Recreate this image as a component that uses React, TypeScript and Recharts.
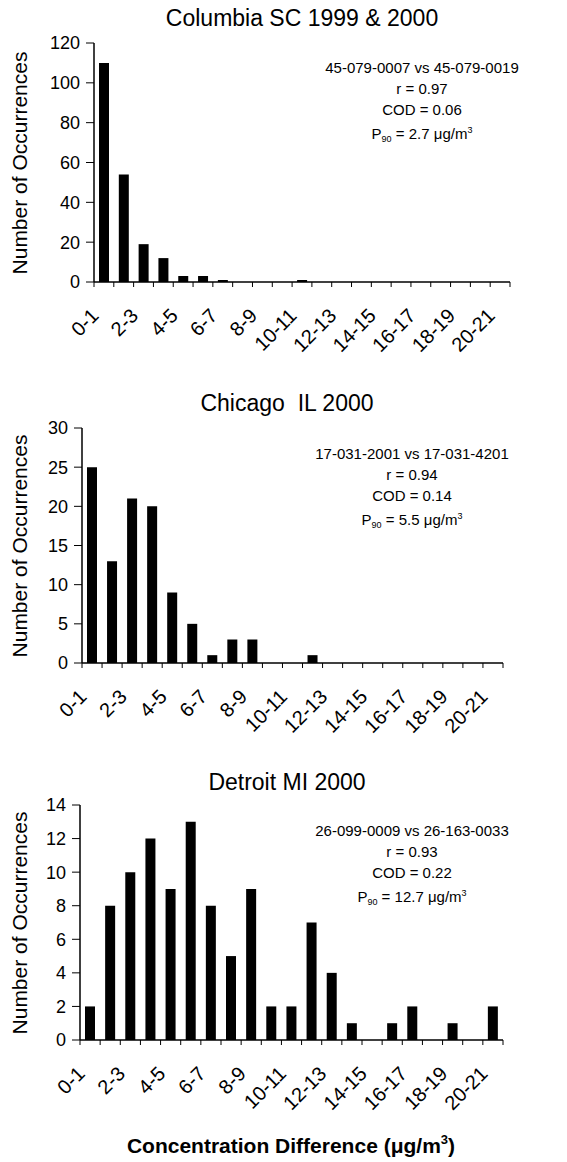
import { BarChart, Bar, XAxis, YAxis } from "recharts";

const bins = [
	"0-1", "1-2", "2-3", "3-4", "4-5", "5-6", "6-7", "7-8", "8-9", "9-10", "10-11",
	"11-12", "12-13", "13-14", "14-15", "15-16", "16-17", "17-18", "18-19", "19-20", "20-21",
];

const columbiaCounts = [110, 54, 19, 12, 3, 3, 1, 0, 0, 0, 1, 0, 0, 0, 0, 0, 0, 0, 0, 0, 0];
const chicagoCounts = [25, 13, 21, 20, 9, 5, 1, 3, 3, 0, 0, 1, 0, 0, 0, 0, 0, 0, 0, 0, 0];
const detroitCounts = [2, 8, 10, 12, 9, 13, 8, 5, 9, 2, 2, 7, 4, 1, 0, 1, 2, 0, 1, 0, 2];

const columbiaTicks = [0, 20, 40, 60, 80, 100, 120];
const chicagoTicks = [0, 5, 10, 15, 20, 25, 30];
const detroitTicks = [0, 2, 4, 6, 8, 10, 12, 14];

const FONT = "'Liberation Sans', Arial, Helvetica, sans-serif";
const W = 567;

interface PanelProps {
	top: number;
	height: number;
	title: string;
	titleX: number;
	titleY: number;
	counts: number[];
	ticks: number[];
	plotLeft: number;
	plotRight: number;
	plotTop: number;
	plotBottom: number;
	sites: string;
	r: string;
	cod: string;
	p90: string;
	noteX: number;
	noteY: number;
	xTitle?: boolean;
}

function BinTick(props: any) {
	const { x, payload, index, band, axisY, count } = props;
	const half = band / 2;
	const showLabel = index % 2 === 0;
	const ax = x - 9;
	const ay = axisY + 30;
	return (
		<g>
			<line x1={x - half} x2={x - half} y1={axisY} y2={axisY + 5} stroke="#000" strokeWidth={1} />
			{index === count - 1 && (
				<line x1={x + half} x2={x + half} y1={axisY} y2={axisY + 5} stroke="#000" strokeWidth={1} />
			)}
			{showLabel && (
				<text
					x={ax}
					y={ay}
					dy="0.35em"
					textAnchor="end"
					transform={`rotate(-45, ${ax}, ${ay})`}
					fontSize={20}
					fontFamily={FONT}
					fill="#000">
					{payload.value}
				</text>
			)}
		</g>
	);
}

function Panel(p: PanelProps) {
	const data = bins.map((name, i) => ({ name, value: p.counts[i] }));
	const xAxisHeight = 60;
	const band = (p.plotRight - p.plotLeft) / bins.length;
	const axisY = p.plotBottom;
	const yMax = p.ticks[p.ticks.length - 1];
	return (
		<div style={{ position: "absolute", left: 0, top: p.top, width: W, height: p.height }}>
			<BarChart
				width={W}
				height={p.height}
				data={data}
				barCategoryGap={0}
				margin={{
					top: p.plotTop,
					right: W - p.plotRight,
					left: 0,
					bottom: p.height - p.plotBottom - xAxisHeight,
				}}>
				<XAxis
					dataKey="name"
					interval={0}
					height={xAxisHeight}
					tickLine={false}
					axisLine={{ stroke: "#000", strokeWidth: 1.5 }}
					tick={<BinTick band={band} axisY={axisY} count={bins.length} />}
				/>
				<YAxis
					width={p.plotLeft}
					domain={[0, yMax]}
					ticks={p.ticks}
					interval={0}
					tickSize={8}
					tickMargin={6}
					axisLine={{ stroke: "#000", strokeWidth: 1.5 }}
					tickLine={{ stroke: "#000", strokeWidth: 1 }}
					tick={{ fill: "#000", fontSize: 18, fontFamily: FONT }}
				/>
				<Bar dataKey="value" fill="#000" barSize={10} isAnimationActive={false} />
			</BarChart>
			<div
				style={{
					position: "absolute",
					left: p.titleX - 200,
					top: p.titleY - 13,
					width: 400,
					textAlign: "center",
					fontFamily: FONT,
					fontSize: 23,
					lineHeight: "26px",
					whiteSpace: "pre",
				}}>
				{p.title}
			</div>
			<div
				style={{
					position: "absolute",
					left: 20 - 150,
					top: (p.plotTop + p.plotBottom) / 2 - 12,
					width: 300,
					height: 24,
					lineHeight: "24px",
					textAlign: "center",
					transform: "rotate(-90deg)",
					fontFamily: FONT,
					fontSize: 21,
				}}>
				Number of Occurrences
			</div>
			<div
				style={{
					position: "absolute",
					left: p.noteX - 140,
					top: p.noteY - 10.5,
					width: 280,
					textAlign: "center",
					fontFamily: FONT,
					fontSize: 15,
					lineHeight: "21px",
				}}>
				<div>{p.sites}</div>
				<div>r = {p.r}</div>
				<div>COD = {p.cod}</div>
				<div>
					P<sub style={{ fontSize: 9, verticalAlign: "-3px" }}>90</sub> = {p.p90} μg/m
					<sup style={{ fontSize: 9, verticalAlign: "6px" }}>3</sup>
				</div>
			</div>
			{p.xTitle && (
				<div
					style={{
						position: "absolute",
						left: 291 - 250,
						top: 366,
						width: 500,
						textAlign: "center",
						fontFamily: FONT,
						fontSize: 21,
						fontWeight: "bold",
						lineHeight: "28px",
					}}>
					Concentration Difference (μg/m<sup style={{ fontSize: 13, verticalAlign: "9px" }}>3</sup>)
				</div>
			)}
		</div>
	);
}

export default function App() {
	return (
		<div
			style={{
				position: "absolute",
				left: 0,
				top: 0,
				width: W,
				height: 1162,
				background: "#fff",
				overflow: "hidden",
			}}>
			<Panel
				top={0}
				height={380}
				title="Columbia SC 1999 & 2000"
				titleX={302}
				titleY={18}
				counts={columbiaCounts}
				ticks={columbiaTicks}
				plotLeft={94}
				plotRight={510}
				plotTop={43}
				plotBottom={282}
				sites="45-079-0007 vs 45-079-0019"
				r="0.97"
				cod="0.06"
				p90="2.7"
				noteX={422}
				noteY={67}
			/>
			<Panel
				top={380}
				height={380}
				title="Chicago  IL 2000"
				titleX={287}
				titleY={23}
				counts={chicagoCounts}
				ticks={chicagoTicks}
				plotLeft={82}
				plotRight={503}
				plotTop={48}
				plotBottom={283}
				sites="17-031-2001 vs 17-031-4201"
				r="0.94"
				cod="0.14"
				p90="5.5"
				noteX={412}
				noteY={73}
			/>
			<Panel
				top={760}
				height={402}
				title="Detroit MI 2000"
				titleX={287}
				titleY={22}
				counts={detroitCounts}
				ticks={detroitTicks}
				plotLeft={80}
				plotRight={503}
				plotTop={45}
				plotBottom={280}
				sites="26-099-0009 vs 26-163-0033"
				r="0.93"
				cod="0.22"
				p90="12.7"
				noteX={412}
				noteY={70}
				xTitle
			/>
		</div>
	);
}
